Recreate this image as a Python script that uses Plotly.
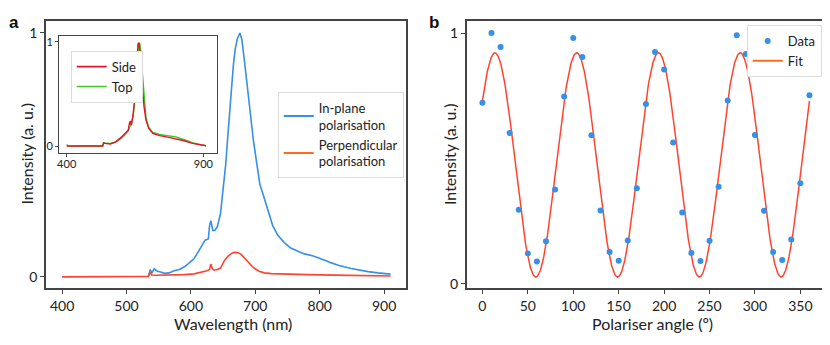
import numpy as np
import plotly.graph_objects as go

# panel a - emission spectra
wl_inplane = [400, 450, 500, 534, 537, 539, 543, 548, 553, 559, 566, 574, 582, 590, 598,
              605, 612, 618, 622, 627, 629, 631, 634, 637, 641, 646, 650, 654, 658, 662,
              666, 669, 672, 676, 679, 683, 687, 692, 697, 702, 707, 713, 720, 727, 735,
              745, 755, 765, 775, 790, 802, 810, 818, 830, 849, 862, 875, 890, 910]
inplane = [0, 0, 0, 0.002, 0.03, 0.014, 0.033, 0.023, 0.02, 0.014, 0.016, 0.025, 0.03, 0.041, 0.058,
           0.075, 0.105, 0.135, 0.15, 0.155, 0.21, 0.23, 0.19, 0.19, 0.205, 0.26, 0.36, 0.46, 0.6, 0.74,
           0.87, 0.937, 0.975, 1.0, 0.975, 0.889, 0.79, 0.66, 0.56, 0.47, 0.38, 0.33, 0.27, 0.21, 0.17,
           0.14, 0.118, 0.105, 0.095, 0.085, 0.075, 0.066, 0.057, 0.046, 0.034, 0.027, 0.021, 0.016, 0.011]

wl_perp = [400, 500, 534, 537, 539, 545, 560, 575, 590, 605, 616, 625, 629, 631, 633, 636, 641,
           646, 652, 657, 662, 666, 670, 674, 678, 683, 688, 694, 699, 706, 714, 725, 745, 780,
           823, 870, 910]
perp = [0, 0, 0.001, 0.02, 0.007, 0.006, 0.006, 0.007, 0.009, 0.012, 0.018, 0.025, 0.03, 0.052,
        0.035, 0.027, 0.03, 0.036, 0.066, 0.083, 0.094, 0.099, 0.1, 0.098, 0.092, 0.08, 0.064,
        0.046, 0.034, 0.023, 0.016, 0.013, 0.011, 0.009, 0.007, 0.005, 0.003]

# inset - normalised side / top spectra
wl_side = [400, 450, 500, 532, 535, 540, 560, 580, 600, 615, 625, 630, 633, 637, 643, 650, 656,
           661, 665, 670, 676, 683, 690, 700, 715, 740, 770, 800, 830, 860, 890, 910]
side = [0, 0, 0, 0, 0.03, 0.025, 0.02, 0.04, 0.085, 0.125, 0.15, 0.22, 0.24, 0.2, 0.3, 0.48, 0.8,
        0.98, 0.99, 0.85, 0.6, 0.38, 0.25, 0.17, 0.12, 0.1, 0.085, 0.07, 0.05, 0.025, 0.01, 0.003]
wl_top = [400, 405, 450, 532, 535, 540, 560, 580, 600, 615, 625, 630, 635, 643, 650, 656, 662,
          667, 671, 677, 684, 690, 700, 715, 740, 770, 800, 830, 860, 890, 910]
top = [0.015, 0, 0, 0, 0.03, 0.03, 0.025, 0.04, 0.075, 0.115, 0.145, 0.18, 0.2, 0.28, 0.45, 0.72,
       0.93, 0.99, 0.92, 0.7, 0.42, 0.28, 0.18, 0.13, 0.11, 0.1, 0.088, 0.06, 0.032, 0.012, 0.004]

# panel b - polariser sweep
angle = list(range(0, 361, 10))
intensity = [0.722, 1.0, 0.944, 0.601, 0.295, 0.121, 0.089, 0.169, 0.376,
             0.747, 0.98, 0.904, 0.592, 0.292, 0.127, 0.092, 0.172, 0.381,
             0.717, 0.924, 0.855, 0.563, 0.284, 0.123, 0.091, 0.171, 0.387,
             0.731, 0.991, 0.916, 0.593, 0.291, 0.127, 0.095, 0.176, 0.401, 0.752]

# fit parameters
fit_offset = 0.474
fit_amp = 0.447
fit_period = 90.0
fit_peak = 13.8

BLUE = "#3590E6"
RED = "#FF4330"
ORANGE = "#FF6A1F"
AXC = "#444444"
TXT = "#222222"
FONT = "Lato"

# page body adds an 8px margin, so the figure is 8px smaller and shifted
W, H, OFF = 822, 337, 8


def px(x):
    return (x - OFF) / W


def py(y):
    return 1 - (y - OFF) / H


fit_x = np.linspace(0, 360, 721)
fit_y = fit_offset + fit_amp * np.cos(2 * np.pi * (fit_x - fit_peak) / fit_period)

fig = go.Figure()

# main spectra
fig.add_trace(go.Scatter(x=wl_inplane, y=inplane, mode="lines", line=dict(color=BLUE, width=1.6),
                         showlegend=False, xaxis="x", yaxis="y"))
fig.add_trace(go.Scatter(x=wl_perp, y=perp, mode="lines", line=dict(color=RED, width=1.6),
                         showlegend=False, xaxis="x", yaxis="y"))
fig.add_trace(go.Scatter(x=[None], y=[None], mode="lines", line=dict(color=BLUE, width=2),
                         name="In-plane<br>polarisation", legend="legend", xaxis="x", yaxis="y"))
fig.add_trace(go.Scatter(x=[None], y=[None], mode="lines", line=dict(color=ORANGE, width=2),
                         name="Perpendicular<br>polarisation", legend="legend", xaxis="x", yaxis="y"))

# inset
fig.add_trace(go.Scatter(x=wl_top, y=top, mode="lines", line=dict(color="#3CCB22", width=1.4),
                         showlegend=False, xaxis="x3", yaxis="y3"))
fig.add_trace(go.Scatter(x=wl_side, y=side, mode="lines", line=dict(color="#E3142A", width=1.4),
                         showlegend=False, xaxis="x3", yaxis="y3"))
fig.add_trace(go.Scatter(x=[None], y=[None], mode="lines", line=dict(color="#E3142A", width=1.6),
                         name="Side", legend="legend3", xaxis="x3", yaxis="y3"))
fig.add_trace(go.Scatter(x=[None], y=[None], mode="lines", line=dict(color="#3CCB22", width=1.6),
                         name="Top", legend="legend3", xaxis="x3", yaxis="y3"))

# panel b
fig.add_trace(go.Scatter(x=fit_x, y=fit_y, mode="lines", line=dict(color=RED, width=1.5),
                         showlegend=False, xaxis="x2", yaxis="y2"))
fig.add_trace(go.Scatter(x=angle, y=intensity, mode="markers", name="Data",
                         marker=dict(color=BLUE, size=6), legend="legend2", xaxis="x2", yaxis="y2"))
fig.add_trace(go.Scatter(x=[None], y=[None], mode="lines", line=dict(color=ORANGE, width=2),
                         name="Fit", legend="legend2", xaxis="x2", yaxis="y2"))

ax = dict(showline=True, linecolor=AXC, linewidth=1.5, mirror=True, ticks="outside",
          ticklen=4, tickwidth=1.2, tickcolor=AXC, showgrid=False, zeroline=False, automargin=False,
          tickfont=dict(size=14, color=TXT))
inax = dict(showline=True, linecolor=AXC, linewidth=1.3, mirror=True, ticks="outside",
            ticklen=3, tickwidth=1, tickcolor=AXC, showgrid=False, zeroline=False, automargin=False,
            tickfont=dict(size=11, color=TXT))

legend_style = dict(bgcolor="white", bordercolor="#DDDDDD", borderwidth=1,
                    font=dict(size=13, color=TXT), yanchor="top")

title_font = dict(size=16, color=TXT, family=FONT)
annotations = [
    dict(text="<b>a</b>", x=0, y=py(23), xanchor="left", showarrow=False, borderpad=0,
         font=dict(size=17, family="Arial", color="#111")),
    dict(text="<b>b</b>", x=px(434), y=py(23), xanchor="center", showarrow=False,
         font=dict(size=17, family="Arial", color="#111")),
    dict(text="Wavelength (nm)", x=px(233), y=py(323), xanchor="center", showarrow=False, font=title_font),
    dict(text="Polariser angle (º)", x=px(652), y=py(323), xanchor="center", showarrow=False, font=title_font),
    dict(text="Intensity (a. u.)", x=px(26), y=py(154.5), xanchor="center", textangle=-90,
         showarrow=False, font=title_font),
    dict(text="Intensity (a. u.)", x=px(449.5), y=py(154.5), xanchor="center", textangle=-90,
         showarrow=False, font=title_font),
]
for a in annotations:
    a.update(xref="paper", yref="paper", yanchor="middle")

fig.update_layout(
    width=W, height=H, margin=dict(l=0, r=0, t=0, b=0, autoexpand=False),
    paper_bgcolor="white", plot_bgcolor="white",
    font=dict(family=FONT, color=TXT),
    xaxis=dict(ax, domain=[px(46), px(406)], range=[375, 934],
               tickvals=[400, 500, 600, 700, 800, 900], anchor="y"),
    yaxis=dict(ax, domain=[py(288), py(21)], range=[-0.046, 1.049], tickvals=[0, 1], anchor="x"),
    xaxis2=dict(ax, domain=[px(466.7), px(826.7)], range=[-17.3, 379],
                tickvals=[0, 50, 100, 150, 200, 250, 300, 350], anchor="y2"),
    yaxis2=dict(ax, domain=[py(288), py(21)], range=[-0.017, 1.048], tickvals=[0, 1], anchor="x2"),
    xaxis3=dict(inax, domain=[px(59.3), px(216.7)], range=[373, 949], tickvals=[400, 900],
                anchor="y3", ticklabelstandoff=-3),
    yaxis3=dict(inax, domain=[py(153.3), py(36)], range=[-0.07, 1.055], tickvals=[0, 1], anchor="x3"),
    legend=dict(legend_style, x=px(277.7), xanchor="left", y=py(91.7), tracegroupgap=6, itemwidth=30),
    legend2=dict(legend_style, x=px(821.7), xanchor="right", y=py(25), tracegroupgap=0, itemwidth=30),
    legend3=dict(legend_style, x=px(70.7), xanchor="left", y=py(50.7), itemwidth=30),
    annotations=annotations,
)

fig.write_html("out.html")
